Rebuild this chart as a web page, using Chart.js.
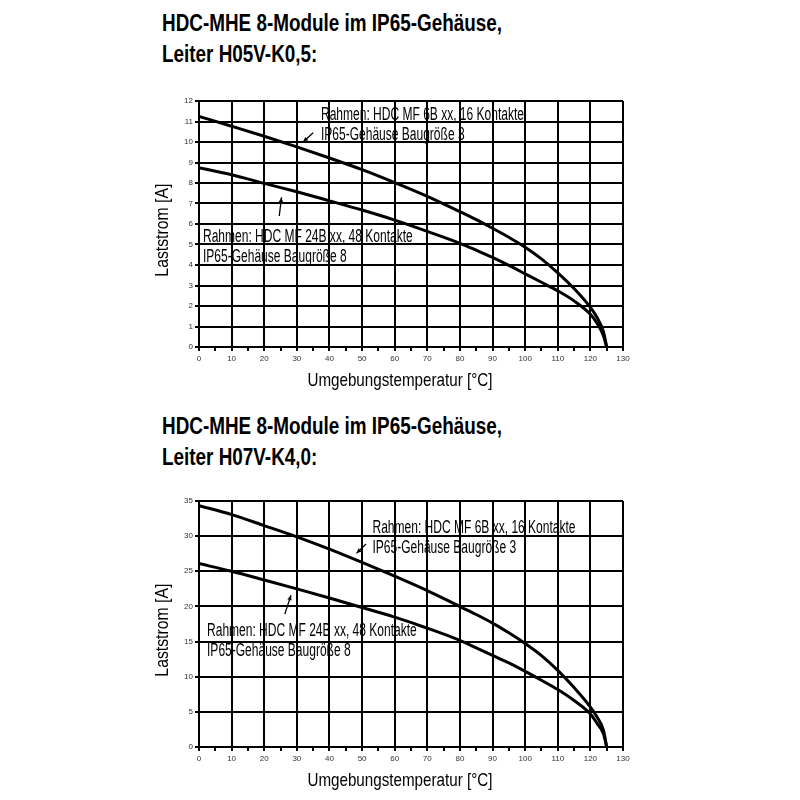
<!DOCTYPE html>
<html><head><meta charset="utf-8">
<script src="https://cdn.jsdelivr.net/npm/chart.js@4.4.1/dist/chart.umd.min.js"></script>
<style>
html,body{margin:0;padding:0;background:#fff;}
body{width:800px;height:800px;position:relative;overflow:hidden;}
.panel{position:absolute;left:0;width:800px;height:400px;}
.title{position:absolute;left:162px;font-family:"Liberation Sans Narrow","Arial Narrow",sans-serif;font-weight:bold;font-size:23px;line-height:31px;color:#000;white-space:nowrap;}
.title span{display:inline-block;transform-origin:0 50%;}
canvas{position:absolute;left:0;top:80px;}
</style></head>
<body>
<div class="panel" style="top:0px">
  <div class="title" style="top:8px"><div><span>HDC-MHE 8-Module im IP65-Gehäuse,</span></div><div><span>Leiter H05V-K0,5:</span></div></div>
  <canvas id="c1" width="800" height="320"></canvas>
</div>
<div class="panel" style="top:400px">
  <div class="title" style="top:11px"><div><span>HDC-MHE 8-Module im IP65-Gehäuse,</span></div><div><span>Leiter H07V-K4,0:</span></div></div>
  <canvas id="c2" width="800" height="320"></canvas>
</div>
<script>
// ---- data ----
const temps  = [0,10,20,30,40,50,60,70,80,85,90,95,100,105,110,115,120,122,124,125];
const h05_16 = [11.25,10.77,10.28,9.76,9.22,8.65,8.02,7.35,6.6,6.21,5.79,5.35,4.87,4.3,3.62,2.85,1.93,1.45,0.75,0];
const h05_48 = [8.74,8.4,7.98,7.57,7.13,6.68,6.19,5.64,5.06,4.72,4.37,3.98,3.57,3.16,2.74,2.25,1.6,1.17,0.55,0];
const h07_16 = [34.34,33.07,31.5,29.9,28.15,26.26,24.3,22.25,19.98,18.85,17.63,16.25,14.72,13.0,10.9,8.45,5.68,4.3,2.4,0];
const h07_48 = [26.1,25.0,23.76,22.5,21.2,19.84,18.47,16.9,15.16,14.1,13.04,11.96,10.77,9.5,8.18,6.62,4.7,3.4,1.9,0];
const xLabel = 'Umgebungstemperatur [°C]';
const yLabel = 'Laststrom [A]';
const txt16a = 'Rahmen: HDC MF 6B xx, 16 Kontakte';
const txt16b = 'IP65-Gehäuse Baugröße 3';
const txt48a = 'Rahmen: HDC MF 24B xx, 48 Kontakte';
const txt48b = 'IP65-Gehäuse Baugröße 8';
// annotation anchors in data units
const labels1 = [
  {text: txt16a, x: 37.4, y: 11.09},
  {text: txt16b, x: 37.4, y: 10.09},
  {text: txt48a, x: 1.23, y: 5.14},
  {text: txt48b, x: 1.23, y: 4.17}
];
const arrows1 = [
  {x1: 35.0, y1: 10.45, x2: 31.9, y2: 10.0},
  {x1: 24.6, y1: 6.39, x2: 25.3, y2: 7.30}
];
const labels2 = [
  {text: txt16a, x: 53.2, y: 30.47},
  {text: txt16b, x: 53.2, y: 27.63},
  {text: txt48a, x: 2.46, y: 15.73},
  {text: txt48b, x: 2.46, y: 12.9}
];
const arrows2 = [
  {x1: 51.2, y1: 28.87, x2: 48.3, y2: 27.55},
  {x1: 26.3, y1: 18.9, x2: 28.2, y2: 21.6}
];

// ---- title compression ----
document.querySelectorAll('.title').forEach(t => {
  const spans = t.querySelectorAll('span');
  const w = spans[0].getBoundingClientRect().width;
  const s = 340 / w;
  spans.forEach(sp => sp.style.transform = 'scaleX(' + s + ')');
});

const NARROW = '"Liberation Sans Narrow","Arial Narrow",sans-serif';

function squeezedText(ctx, text, x, y, targetW, align, rot) {
  const w = ctx.measureText(text).width;
  const s = targetW / w;
  ctx.save();
  ctx.translate(x, y);
  if (rot) ctx.rotate(rot);
  ctx.scale(s, 1);
  ctx.textAlign = align;
  ctx.fillText(text, 0, 0);
  ctx.restore();
}

const annotate = {
  id: 'annotate',
  afterDraw(chart, args, opts) {
    const {ctx} = chart;
    const xs = chart.scales.x, ys = chart.scales.y;
    ctx.save();
    ctx.fillStyle = '#000';
    // axis titles (condensed)
    ctx.font = '19px ' + NARROW;
    ctx.textBaseline = 'middle';
    squeezedText(ctx, xLabel, xs.getPixelForValue(61.6), chart.height - 19, 185, 'center', 0);
    squeezedText(ctx, yLabel, 163, ys.getPixelForValue(ys.max * 0.475), 93, 'center', -Math.PI / 2);
    // in-plot labels
    ctx.font = '18px ' + NARROW;
    const sx = 203 / ctx.measureText(txt16a).width;
    ctx.textAlign = 'left';
    ctx.textBaseline = 'alphabetic';
    opts.labels.forEach(l => {
      ctx.save();
      ctx.translate(xs.getPixelForValue(l.x), ys.getPixelForValue(l.y));
      ctx.scale(sx, 1);
      ctx.fillText(l.text, 0, 0);
      ctx.restore();
    });
    ctx.strokeStyle = '#000';
    ctx.lineWidth = 1.3;
    opts.arrows.forEach(a => {
      const x1 = xs.getPixelForValue(a.x1), y1 = ys.getPixelForValue(a.y1);
      const x2 = xs.getPixelForValue(a.x2), y2 = ys.getPixelForValue(a.y2);
      const ang = Math.atan2(y2 - y1, x2 - x1);
      ctx.beginPath(); ctx.moveTo(x1, y1); ctx.lineTo(x2, y2); ctx.stroke();
      const L = 5, W = 2.2;
      ctx.beginPath();
      ctx.moveTo(x2, y2);
      ctx.lineTo(x2 - L*Math.cos(ang) + W*Math.sin(ang), y2 - L*Math.sin(ang) - W*Math.cos(ang));
      ctx.lineTo(x2 - L*Math.cos(ang) - W*Math.sin(ang), y2 - L*Math.sin(ang) + W*Math.cos(ang));
      ctx.closePath(); ctx.fill();
    });
    ctx.restore();
  }
};

function makeChart(id, upper, lower, ymax, ystep, labels, arrows) {
  const mk = arr => temps.map((t, i) => ({x: t, y: arr[i]}));
  const lineDs = (name, arr) => ({
    label: name, data: mk(arr), borderColor: '#000', borderWidth: 3,
    pointRadius: 0, fill: false, cubicInterpolationMode: 'monotone'
  });
  return new Chart(document.getElementById(id), {
    type: 'line',
    data: { datasets: [lineDs(txt16a, upper), lineDs(txt48a, lower)] },
    options: {
      responsive: false, animation: false,
      layout: { padding: { top: 21, right: 177, left: 0, bottom: 0 } },
      plugins: { legend: {display: false}, tooltip: {enabled: false}, annotate: {labels, arrows} },
      scales: {
        x: {
          type: 'linear', min: 0, max: 130,
          afterFit: s => { s.height = 53; },
          ticks: { stepSize: 5, autoSkip: false, maxRotation: 0, padding: 3, color: '#333',
                   font: {family: '"Liberation Sans",Arial,sans-serif', size: 8},
                   callback: v => (v % 10 === 0 ? String(v) : '') },
          grid: { color: c => (c.tick && c.tick.value % 10 === 0 ? '#000' : 'rgba(0,0,0,0)'),
                  tickColor: '#000', lineWidth: 2, tickLength: 4, drawTicks: true },
          border: { display: true, color: '#000', width: 2 },
          title: { display: false, text: xLabel }
        },
        y: {
          min: 0, max: ymax,
          afterFit: s => { s.width = 199; },
          ticks: { stepSize: ystep, padding: 2, color: '#333',
                   font: {family: '"Liberation Sans",Arial,sans-serif', size: 8} },
          grid: { color: '#000', lineWidth: 2, tickLength: 4, tickColor: '#000' },
          border: { display: true, color: '#000', width: 2 },
          title: { display: false, text: yLabel }
        }
      }
    },
    plugins: [annotate]
  });
}
makeChart('c1', h05_16, h05_48, 12, 1, labels1, arrows1);
makeChart('c2', h07_16, h07_48, 35, 5, labels2, arrows2);
</script>
</body></html>
